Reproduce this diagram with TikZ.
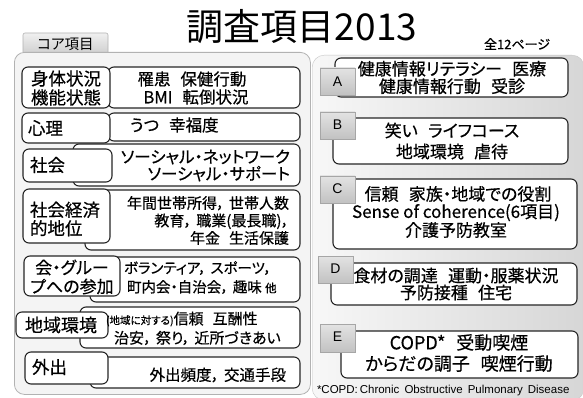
\documentclass[tikz,border=0pt]{standalone}
\usepackage{fontspec}
\setmainfont{Noto Sans CJK JP}[RawFeature=+palt, FakeBold=0.5]
\newfontfamily\titlefont{Noto Sans CJK JP}[RawFeature=+palt]
\newfontfamily\arialfont{Liberation Sans}
\newcommand\gap{\hspace{0.6em}}
\newcommand\cm{，\hspace{0.3em}}
\begin{document}
\begin{tikzpicture}[x=1pt,y=-1pt,
  box/.style={draw=black!85, fill=white, line width=1.1pt, rounded corners=6pt, inner sep=0pt, outer sep=0pt, anchor=north west},
  tabbox/.style={draw=gray!70, top color=gray!22, bottom color=gray!48, line width=0.6pt, inner sep=0pt, outer sep=0pt, anchor=north west, minimum width=35, minimum height=27},
  txt/.style={inner sep=0pt, outer sep=0pt}
]
\useasboundingbox (0,0) rectangle (583,398);
\fill[white] (0,0) rectangle (583,398);

% title
\node[txt, font=\titlefont\fontsize{37}{40}\selectfont] (title) at (302,27) {調査項目2013};
\node[txt, font=\fontsize{13}{14}\selectfont] (pages) at (517,44) {全12ページ};

% right panel
\node[draw=gray!45, left color=gray!6, right color=gray!32, rounded corners=12pt, inner sep=0pt, anchor=north west, minimum width=272, minimum height=345] (rpanel) at (312,55) {};

% left panel
\node[tabbox, draw=gray!60, top color=gray!12, bottom color=gray!38, minimum width=85, minimum height=21, rounded corners=2pt] (coretab) at (23,33) {};
\node[txt, font=\titlefont\fontsize{14.5}{15}\selectfont] (coretxt) at (65.5,44) {コア項目};
\node[draw=gray!60, fill=gray!9, line width=0.8pt, rounded corners=10pt, inner sep=0pt, anchor=north west, minimum width=296, minimum height=342] (lpanel) at (14,52) {};

% row 1
\node[box, minimum width=192, minimum height=41] (c1) at (108,67) {};
\node[box, minimum width=88, minimum height=41] (l1) at (22,67) {};
\node[txt, align=center, font=\fontsize{17.5}{19}\selectfont] (l1t) at (66,88) {身体状況\\機能状態};
\node[txt, align=center, font=\fontsize{16.5}{18}\selectfont] (c1t) at (192,88) {罹患\gap 保健行動\\\hspace*{8pt}BMI\gap 転倒状況};

% row 2
\node[box, minimum width=192, minimum height=28] (c2) at (108,113) {};
\node[box, minimum width=88, minimum height=30] (l2) at (22,113) {};
\node[txt, anchor=west, font=\fontsize{17.5}{19}\selectfont] (l2t) at (28,128) {心理};
\node[txt, anchor=west, font=\fontsize{16.5}{18}\selectfont] (c2t) at (130,125) {うつ\gap 幸福度};

% row 3
\node[box, minimum width=227, minimum height=42] (c3) at (73,144) {};
\node[box, minimum width=89, minimum height=33] (l3) at (23,149) {};
\node[txt, anchor=west, font=\fontsize{17.5}{19}\selectfont] (l3t) at (30,165) {社会};
\node[txt, anchor=east, align=right, font=\fontsize{16.5}{17}\selectfont] (c3t) at (290,165.5) {ソーシャル・ネットワーク\\ソーシャル・サポート};

% row 4
\node[box, minimum width=215, minimum height=60] (c4) at (85,190) {};
\node[box, minimum width=87, minimum height=54] (l4) at (23,189) {};
\node[txt, anchor=west, align=left, font=\fontsize{17.5}{18.5}\selectfont] (l4t) at (30,219) {社会経済\\的地位};
\node[txt, anchor=east, align=right, font=\fontsize{15}{17.5}\selectfont] (c4t) at (289,220.5) {年間世帯所得\cm 世帯人数\\教育\cm 職業(最長職)\cm\\年金\gap 生活保護};

% row 5
\node[box, minimum width=210, minimum height=45] (c5) at (90,257) {};
\node[box, minimum width=96, minimum height=40] (l5) at (24,256) {};
\node[txt, align=center, font=\fontsize{17}{19}\selectfont] (l5t) at (72,277) {会・グルー\\プへの参加};
\node[txt, anchor=west, align=left, font=\fontsize{14.5}{19}\selectfont] (c5t) at (124,277.5) {ボランティア\cm スポーツ\cm\\\hspace*{3pt}町内会・自治会\cm 趣味 {\fontsize{11.5}{12}\selectfont 他}};

% row 6
\node[box, minimum width=220, minimum height=41] (c6) at (80,307) {};
\node[box, minimum width=92, minimum height=26] (l6) at (16,312) {};
\node[txt, font=\fontsize{18}{19}\selectfont] (l6t) at (61,325) {地域環境};
\node[txt, anchor=west, font=\fontsize{15}{16}\selectfont] (c6a) at (106,319) {{\fontsize{10.5}{12}\selectfont (地域に対する)}信頼\gap 互酬性};
\node[txt, anchor=west, font=\fontsize{15}{16}\selectfont] (c6b) at (114,338) {治安\cm 祭り\cm 近所づきあい};

% row 7
\node[box, minimum width=210, minimum height=31] (c7) at (90,357) {};
\node[box, minimum width=83, minimum height=32] (l7) at (25,352) {};
\node[txt, anchor=west, font=\fontsize{17.5}{19}\selectfont] (l7t) at (32,367) {外出};
\node[txt, anchor=east, font=\fontsize{15.5}{17}\selectfont] (c7t) at (286,375) {外出頻度\cm 交通手段};

% A
\node[box, minimum width=233, minimum height=39] (cA) at (335,58) {};
\node[txt, align=center, font=\fontsize{17}{17.5}\selectfont] (cAt) at (452,77.5) {健康情報リテラシー\gap 医療\\健康情報行動\gap 受診};
\node[tabbox] (tA) at (320,68) {};
\node[txt, font=\arialfont\fontsize{14}{16}\selectfont] (tAt) at (337.5,81.5) {A};

% B
\node[box, minimum width=235, minimum height=46] (cB) at (333,118) {};
\node[txt, align=center, font=\fontsize{17}{21}\selectfont] (cBt) at (452,141) {笑い\gap ライフコース\\地域環境\gap 虐待};
\node[tabbox] (tB) at (320,112) {};
\node[txt, font=\arialfont\fontsize{14}{16}\selectfont] (tBt) at (337.5,125) {B};

% C
\node[box, minimum width=244, minimum height=70] (cC) at (333,179) {};
\node[txt, align=center, font=\fontsize{17}{17.5}\selectfont] (cCt) at (456,212) {\hspace*{4pt}信頼\gap 家族・地域での役割\\Sense of coherence(6項目)\\介護予防教室};
\node[tabbox] (tC) at (320,176) {};
\node[txt, font=\arialfont\fontsize{14}{16}\selectfont] (tCt) at (337.5,189) {C};

% D
\node[box, minimum width=246, minimum height=42] (cD) at (331,263) {};
\node[txt, align=center, font=\fontsize{17}{17}\selectfont] (cDt) at (456,284) {食材の調達\gap 運動・服薬状況\\予防接種\gap 住宅};
\node[tabbox] (tD) at (318,256) {};
\node[txt, font=\arialfont\fontsize{14}{16}\selectfont] (tDt) at (335.5,269) {D};

% E
\node[box, minimum width=237, minimum height=47] (cE) at (341,331) {};
\node[txt, align=center, font=\fontsize{18}{21}\selectfont] (cEt) at (459,353) {COPD*\gap 受動喫煙\\からだの調子\gap 喫煙行動};
\node[tabbox, minimum height=28] (tE) at (320,324) {};
\node[txt, font=\arialfont\fontsize{14}{16}\selectfont] (tEt) at (337.5,337) {E};

% footnote
\node[txt, anchor=west, font=\arialfont\fontsize{11.5}{12}\selectfont] (fn) at (317,391) {*COPD:\,Chronic\, Obstructive\, Pulmonary\, Disease};
\end{tikzpicture}
\end{document}
